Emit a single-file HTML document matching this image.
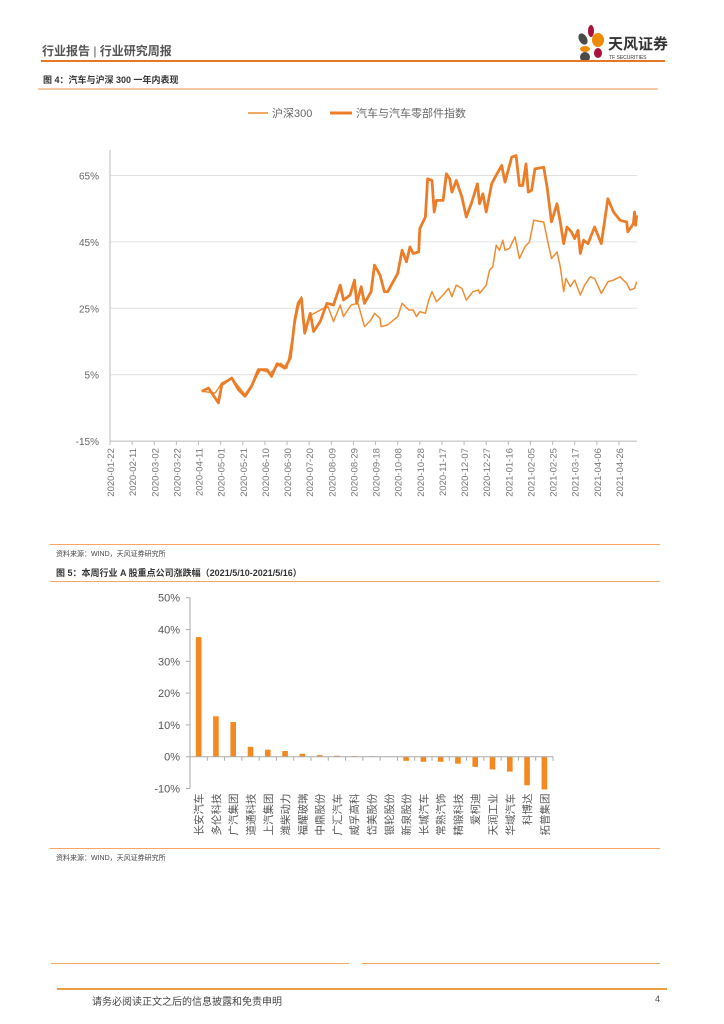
<!DOCTYPE html>
<html><head><meta charset="utf-8">
<style>
body{margin:0;background:#fff;font-family:"Liberation Sans","Noto Sans CJK SC",sans-serif;}
#page{position:relative;width:724px;height:1024px;overflow:hidden;background:#fff;}
.abs{position:absolute;}
.hl{position:absolute;height:0;}
</style></head><body>
<div id="page">
<div class="abs" style="left:42px;top:42px;font-size:12px;color:#555;font-weight:bold;">行业报告 <span style="font-weight:normal">|</span> 行业研究周报</div>
<svg class="abs" style="left:568px;top:22px" width="100" height="42">
<ellipse cx="15" cy="17" rx="4" ry="6" fill="#4a4a4a" transform="rotate(-30 15 17)"/>
<ellipse cx="23" cy="9" rx="3" ry="6" fill="#a8123a"/>
<ellipse cx="30" cy="18" rx="6" ry="7" fill="#ee8a00"/>
<ellipse cx="17" cy="27" rx="5" ry="3" fill="#ee8a00"/>
<ellipse cx="30" cy="31" rx="4" ry="5" fill="#a8123a"/>
<ellipse cx="17" cy="35" rx="5" ry="5" fill="#4a4a4a"/>
<text x="40" y="27" font-size="15" font-weight="bold" fill="#333" font-family="Liberation Sans,Noto Sans CJK SC,sans-serif">天风证券</text>
<text x="41" y="37" font-size="5" fill="#333" font-family="Liberation Sans,sans-serif">TF SECURITIES</text>
</svg>
<div class="hl" style="left:41px;top:60px;width:624px;border-top:2px solid #e87722;"></div>
<div class="abs" style="left:43px;top:73px;font-size:9px;font-weight:bold;color:#333;">图 4：汽车与沪深 300 一年内表现</div>
<div class="hl" style="left:38px;top:88px;width:620px;border-top:2px solid #f8c9a0;"></div>

<svg id="c1" class="abs" style="left:0;top:95px" width="724" height="450"></svg>

<div class="hl" style="left:50px;top:544px;width:610px;border-top:1px solid #f5a660;"></div>
<div class="abs" style="left:56px;top:549px;font-size:7px;color:#444;">资料来源：WIND，天风证券研究所</div>
<div class="abs" style="left:56px;top:566px;font-size:9px;font-weight:bold;color:#333;">图 5：本周行业 A 股重点公司涨跌幅（2021/5/10-2021/5/16）</div>
<div class="hl" style="left:50px;top:581px;width:610px;border-top:1px solid #f5a660;"></div>

<svg id="c2" class="abs" style="left:0;top:582px" width="724" height="265"></svg>

<div class="hl" style="left:50px;top:848px;width:610px;border-top:1px solid #f5a660;"></div>
<div class="abs" style="left:56px;top:853px;font-size:7px;color:#444;">资料来源：WIND，天风证券研究所</div>
<div class="hl" style="left:51px;top:963px;width:298px;border-top:1px solid #f5a660;"></div>
<div class="hl" style="left:362px;top:963px;width:298px;border-top:1px solid #f5a660;"></div>
<div class="hl" style="left:57px;top:988px;width:610px;border-top:2px solid #e8a040;"></div>
<div class="abs" style="left:92px;top:993px;font-size:10px;color:#444;">请务必阅读正文之后的信息披露和免责申明</div>
<div class="abs" style="left:655px;top:994px;font-size:9px;color:#555;">4</div>
</div>
<script>
// ---- chart 1 data ----
const c1TickLabels=["2020-01-22","2020-02-11","2020-03-02","2020-03-22","2020-04-11","2020-05-01","2020-05-21","2020-06-10","2020-06-30","2020-07-20","2020-08-09","2020-08-29","2020-09-18","2020-10-08","2020-10-28","2020-11-17","2020-12-07","2020-12-27","2021-01-16","2021-02-05","2021-02-25","2021-03-17","2021-04-06","2021-04-26"];
const c1YTicks=[65,45,25,5,-15];
const autoDays=[83,89,98,101,110,116,122,128,134,142,146,151,158,163,167,170,173,176,181,184,190,196,202,208,211,217,221,223,227,230,236,239,244,248,251,260,264,268,271,274,279,280,285,287,291,293,295,301,304,307,309,313,318,322,327,332,334,337,340,345,348,354,357,363,367,370,373,376,378,381,384,392,395,399,404,407,410,413,417,420,423,425,428,432,438,444,450,455,461,467,468,473,474,475,476];
const autoVals=[0,1,-3.5,2,4,0.5,-1.5,1.5,6.5,6.5,4.5,8.3,7,10,21.5,26.5,28,17.5,23.5,18,21,26.5,26,32,27.5,29,33.5,26.5,31.5,26.5,30,38,35,30,30,35.5,42.5,39,43.5,41.5,42,49,52.5,64,63.5,54,57.5,57.5,65.5,64,60,63.5,58.5,52.5,57,62.5,56.5,59.5,54,62.5,64.5,68,63,70.5,71,62,62,68.5,60,60.5,67,67.5,61.5,51,56.5,51,44.5,49.5,48,46,48.5,41.5,45.5,44.5,49.5,44.5,58,54,51.5,51,48,50.5,54,50,53];
const hsDays=[83,95,101,110,116,122,131,136,145,154,160,166,170,173,176,182,193,197,202,208,211,218,224,230,236,239,244,245,251,260,264,270,274,277,280,285,288,291,295,301,306,309,313,318,322,328,333,334,340,343,346,349,352,355,357,361,366,370,375,379,383,392,396,399,404,407,410,412,416,420,425,429,434,438,444,450,455,461,467,470,474,476];
const hsVals=[0,-0.5,2.5,4,1.5,-1,3.5,6.5,5.5,8.5,7,18.5,25,28.5,19.5,23,25,25.5,21,26,22.5,26,26.5,19.5,21.5,23.5,22,19.5,20,22.5,26.5,24.5,24.5,22.5,24,23.5,27.5,30,27,29,31,28.5,32,31,27.5,30,30.5,29.5,32,36.5,37.5,44,42.5,45.5,42.5,43,46.5,40,43.5,45,51.5,51,44.5,40,42,37.5,30,34,31.5,33.5,29,32,34.5,34,29.5,33,33.5,34.5,32.5,30.5,31,33];
// ---- chart 2 data ----
const companies=["长安汽车","多伦科技","广汽集团","道通科技","上汽集团","潍柴动力","福耀玻璃","中鼎股份","广汇汽车","威孚高科","岱美股份","银轮股份","新泉股份","长城汽车","常熟汽饰","精锻科技","爱柯迪","天润工业","华域汽车","科博达","拓普集团"];
const changes=[37.6,12.7,10.9,3.1,2.2,1.8,0.9,0.5,0.3,0.2,0.15,0.1,-1.3,-1.6,-1.6,-2.2,-3.2,-4.0,-4.7,-9.0,-10.3];
const c2YTicks=[50,40,30,20,10,0,-10];

const NS="http://www.w3.org/2000/svg";
function mk(svg,tag,attrs,txt){const e=document.createElementNS(NS,tag);for(const k in attrs)e.setAttribute(k,attrs[k]);if(txt!==undefined)e.textContent=txt;svg.appendChild(e);return e;}
const FONT='"Liberation Sans","Noto Sans CJK SC",sans-serif';

// chart 1 (svg top offset 95)
(function(){
const s=document.getElementById('c1');
const x=d=>110+d*1.1065;
const y=v=>(175.5-95)+(65-v)*(66.4/20);
// legend
let e;
e=mk(s,'line',{x1:248,x2:268,y1:18,y2:18,stroke:'#f08c30','stroke-width':1.5});

e=mk(s,'text',{x:272,y:22,'font-size':11,fill:'#666','font-family':FONT},'沪深300');

e=mk(s,'line',{x1:330,x2:352,y1:18,y2:18,stroke:'#ec7d28','stroke-width':3});

e=mk(s,'text',{x:356,y:22,'font-size':11,fill:'#666','font-family':FONT},'汽车与汽车零部件指数');

c1YTicks.forEach(v=>{
  if(v>-15){const g=mk(s,'line',{x1:110,x2:637,y1:y(v),y2:y(v),stroke:'#e0e0e0','stroke-width':1});
  }
  const t=mk(s,'text',{x:99,y:y(v)+4,'text-anchor':'end','font-size':10,fill:'#666','font-family':FONT},v+'%');
  
});
e=mk(s,'line',{x1:110,x2:110,y1:55,y2:y(-15),stroke:'#bbb'});

e=mk(s,'line',{x1:110,x2:637,y1:y(-15),y2:y(-15),stroke:'#bbb'});

c1TickLabels.forEach((lab,i)=>{
  const xx=x(i*20);
  const tk=mk(s,'line',{x1:xx,x2:xx,y1:y(-15),y2:y(-15)+4,stroke:'#bbb'});
  
  const t=mk(s,'text',{x:0,y:0,'text-anchor':'end','font-size':9.5,fill:'#777','font-family':FONT,transform:`translate(${xx+4},${y(-15)+7}) rotate(-90)`},lab);
  
});
const path=(ds,vs)=>ds.map((d,i)=>(i?'L':'M')+x(d).toFixed(1)+','+y(vs[i]).toFixed(1)).join('');
e=mk(s,'path',{d:path(hsDays,hsVals),fill:'none',stroke:'#f08c30','stroke-width':1.5,'stroke-linejoin':'round'});

e=mk(s,'path',{d:path(autoDays,autoVals),fill:'none',stroke:'#ec7d28','stroke-width':2.8,'stroke-linejoin':'round'});

})();

// chart 2 (svg top offset 582)
(function(){
const s=document.getElementById('c2');
const y=v=>(756.7-582)-v*3.18;
const x0=190,x1=553,bw=(x1-x0)/companies.length;
let e;
c2YTicks.forEach(v=>{
  const t=mk(s,'text',{x:180,y:y(v)+4,'text-anchor':'end','font-size':11,fill:'#555','font-family':FONT},v+'%');
  
  const tk=mk(s,'line',{x1:186,x2:190,y1:y(v),y2:y(v),stroke:'#aaa'});
  
});
e=mk(s,'line',{x1:190,x2:190,y1:y(50),y2:y(-10),stroke:'#aaa'});

companies.forEach((c,i)=>{
  const cx=x0+bw*(i+0.5),v=changes[i];
  const r=mk(s,'rect',{x:cx-2.8,y:Math.min(y(v),y(0)),width:5.6,height:Math.max(0.6,Math.abs(y(v)-y(0))),fill:'#f5891f'});
  
  const tk=mk(s,'line',{x1:x0+bw*(i+1),x2:x0+bw*(i+1),y1:y(0),y2:y(0)+4,stroke:'#aaa'});
  
  const t=mk(s,'text',{x:0,y:0,'text-anchor':'end','font-size':10.5,fill:'#555','font-family':FONT,transform:`translate(${cx+4},${y(-10)+5}) rotate(-90)`},c);
  
});
e=mk(s,'line',{x1:190,x2:553,y1:y(0),y2:y(0),stroke:'#aaa'});

})();
</script>
</body></html>
